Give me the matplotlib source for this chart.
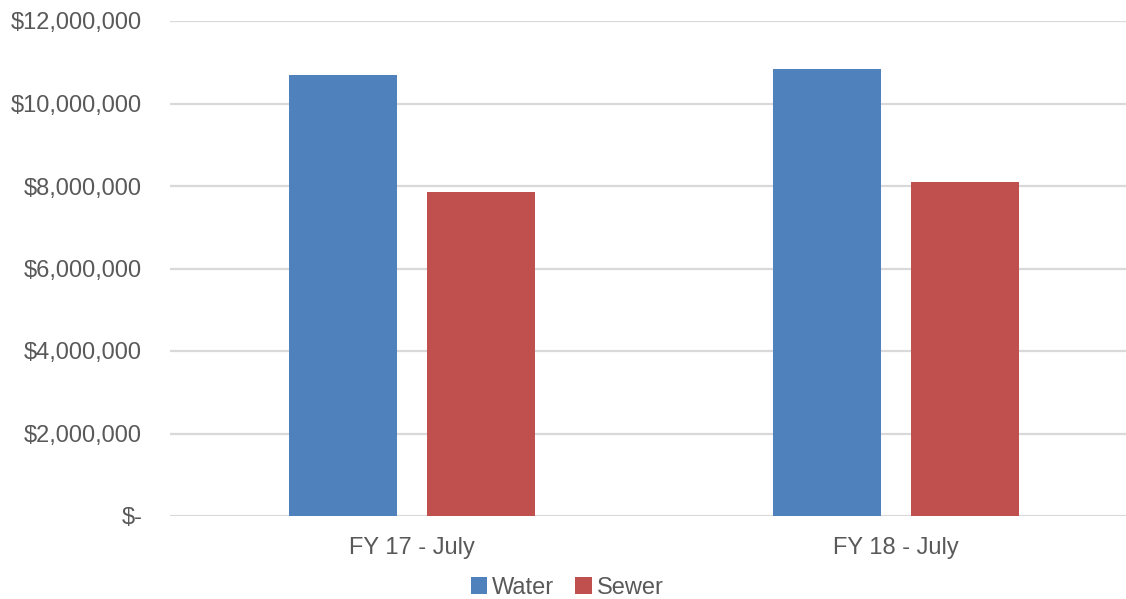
import matplotlib.pyplot as plt
import numpy as np
from matplotlib.ticker import FuncFormatter

plt.rcParams['font.family'] = ['Liberation Sans', 'DejaVu Sans']

# Revenue by fiscal year
categories = ['FY 17 - July', 'FY 18 - July']
water = [10690000, 10830000]
sewer = [7850000, 8100000]

WATER_COLOR = '#4F81BD'
SEWER_COLOR = '#C0504D'
TEXT_COLOR = '#595959'
GRID_COLOR = '#D9D9D9'

fig = plt.figure(figsize=(11.26, 5.99), dpi=100)
ax = fig.add_axes([170 / 1126, 83 / 599, 956 / 1126, 495 / 599])

x = np.arange(len(categories))
width = 0.223
offset = 0.1426
ax.bar(x - offset, water, width, color=WATER_COLOR, label='Water', zorder=3)
ax.bar(x + offset, sewer, width, color=SEWER_COLOR, label='Sewer', zorder=3)

ax.set_xlim(-0.5, 1.475)
ax.set_ylim(0, 12000000)
ax.set_yticks(np.arange(0, 12000001, 2000000))


def dollars(v, pos):
    if v == 0:
        return '$-'
    return '${:,.0f}'.format(v)


ax.yaxis.set_major_formatter(FuncFormatter(dollars))
ax.set_xticks(x)
ax.set_xticklabels(categories)

ax.grid(axis='y', color=GRID_COLOR, linewidth=1.6, zorder=0)
for side in ['top', 'right', 'left', 'bottom']:
    ax.spines[side].set_visible(False)
ax.tick_params(axis='both', length=0, labelsize=17, labelcolor=TEXT_COLOR)
ax.tick_params(axis='y', pad=20)
ax.tick_params(axis='x', pad=15)

fig.legend(loc='center', bbox_to_anchor=(567 / 1126, 1 - 588 / 599), ncol=2,
           frameon=False, fontsize=17, labelcolor=TEXT_COLOR,
           handlelength=0.7, handleheight=0.7, handletextpad=0.2,
           columnspacing=0.9)

fig.savefig('out.png', dpi=100)
